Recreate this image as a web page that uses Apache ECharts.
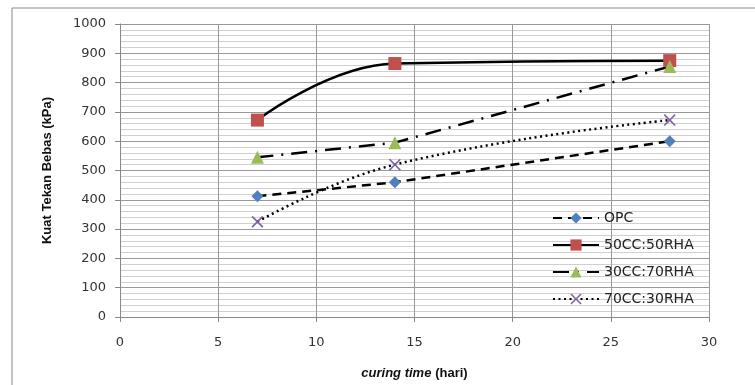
<!DOCTYPE html>
<html>
<head>
<meta charset="utf-8">
<script src="https://cdn.jsdelivr.net/npm/echarts@6/dist/echarts.min.js"></script>
<style>
  html, body { margin: 0; padding: 0; background: #fff; }
  #chart { width: 755px; height: 385px; }
</style>
</head>
<body>
<div id="chart"></div>
<script>
// curing time (hari)
var days = [7, 14, 28];
var names = ['OPC', '50CC:50RHA', '30CC:70RHA', '70CC:30RHA'];
var opc = [412, 460, 600];
var cc50 = [672, 865, 875];
var cc30 = [545, 595, 855];
var cc70 = [325, 520, 672];

function pairs(vals) {
  return days.map(function (d, i) { return [d, vals[i]]; });
}

var crossPath = 'path://M0,1 L1,0 L5,4 L9,0 L10,1 L6,5 L10,9 L9,10 L5,6 L1,10 L0,9 L4,5 Z';

var chartDom = document.getElementById('chart');
var myChart = echarts.init(chartDom);

var option = {
  backgroundColor: '#fff',
  textStyle: { fontFamily: 'DejaVu Sans' },
  graphic: [{
    type: 'rect',
    shape: { x: 12, y: 8, width: 760, height: 400 },
    style: { fill: 'none', stroke: '#888', lineWidth: 1 },
    silent: true
  }],
  grid: { left: 120, right: 46, top: 24, bottom: 65 },
  legend: {
    orient: 'vertical',
    left: 547,
    top: 206,
    itemWidth: 46,
    itemHeight: 14,
    itemGap: 13,
    textStyle: { fontSize: 14, color: '#222', fontFamily: 'DejaVu Sans' },
    data: names
  },
  xAxis: {
    type: 'value',
    min: 0, max: 30, interval: 5,
    name: '{i|curing time} {b|(hari)}',
    nameLocation: 'middle',
    nameGap: 50,
    nameTextStyle: {
      rich: {
        i: { fontStyle: 'italic', fontWeight: 'bold', fontSize: 13, color: '#111', fontFamily: 'Liberation Sans' },
        b: { fontWeight: 'bold', fontSize: 13, color: '#111', fontFamily: 'Liberation Sans' }
      }
    },
    axisLine: { show: true, onZero: false, lineStyle: { color: '#888', width: 1 } },
    axisTick: { show: true, length: 5, lineStyle: { color: '#888' } },
    axisLabel: { margin: 19, fontSize: 13, color: '#333' },
    splitLine: { show: true, lineStyle: { color: '#999', width: 1 } }
  },
  yAxis: {
    type: 'value',
    min: 0, max: 1000, interval: 100,
    name: 'Kuat Tekan Bebas (kPa)',
    nameLocation: 'middle',
    nameGap: 66,
    nameTextStyle: { fontWeight: 'bold', fontSize: 13, color: '#111', fontFamily: 'Liberation Sans' },
    axisLine: { show: true, lineStyle: { color: '#888', width: 1 } },
    axisTick: { show: true, length: 5, lineStyle: { color: '#888' } },
    axisLabel: { margin: 14, fontSize: 13, color: '#333', formatter: function (v) { return String(v); } },
    splitLine: { show: true, lineStyle: { color: '#999', width: 1 } },
    minorTick: { show: false, splitNumber: 5 },
    minorSplitLine: { show: true, lineStyle: { color: '#d0d0d0', width: 1 } }
  },
  series: [
    {
      name: names[0],
      type: 'line',
      data: pairs(opc),
      symbol: 'diamond',
      symbolSize: 12,
      itemStyle: { color: '#4F81BD' },
      lineStyle: { color: '#000', width: 2.5, type: [9, 6] },
      z: 3
    },
    {
      name: names[1],
      type: 'line',
      data: pairs(cc50),
      smooth: 0.45,
      symbol: 'rect',
      symbolSize: 13,
      itemStyle: { color: '#C0504D' },
      lineStyle: { color: '#000', width: 2.5 },
      z: 3
    },
    {
      name: names[2],
      type: 'line',
      data: pairs(cc30),
      symbol: 'triangle',
      symbolSize: 13,
      itemStyle: { color: '#9BBB59' },
      lineStyle: { color: '#000', width: 2.5, type: [16, 8, 2, 8] },
      z: 3
    },
    {
      name: names[3],
      type: 'line',
      data: pairs(cc70),
      smooth: 0.45,
      symbol: crossPath,
      symbolSize: 12,
      itemStyle: { color: '#8064A2' },
      lineStyle: { color: '#000', width: 2.5, type: [2, 3.5] },
      z: 3
    }
  ]
};

option && myChart.setOption(option);
</script>
</body>
</html>
